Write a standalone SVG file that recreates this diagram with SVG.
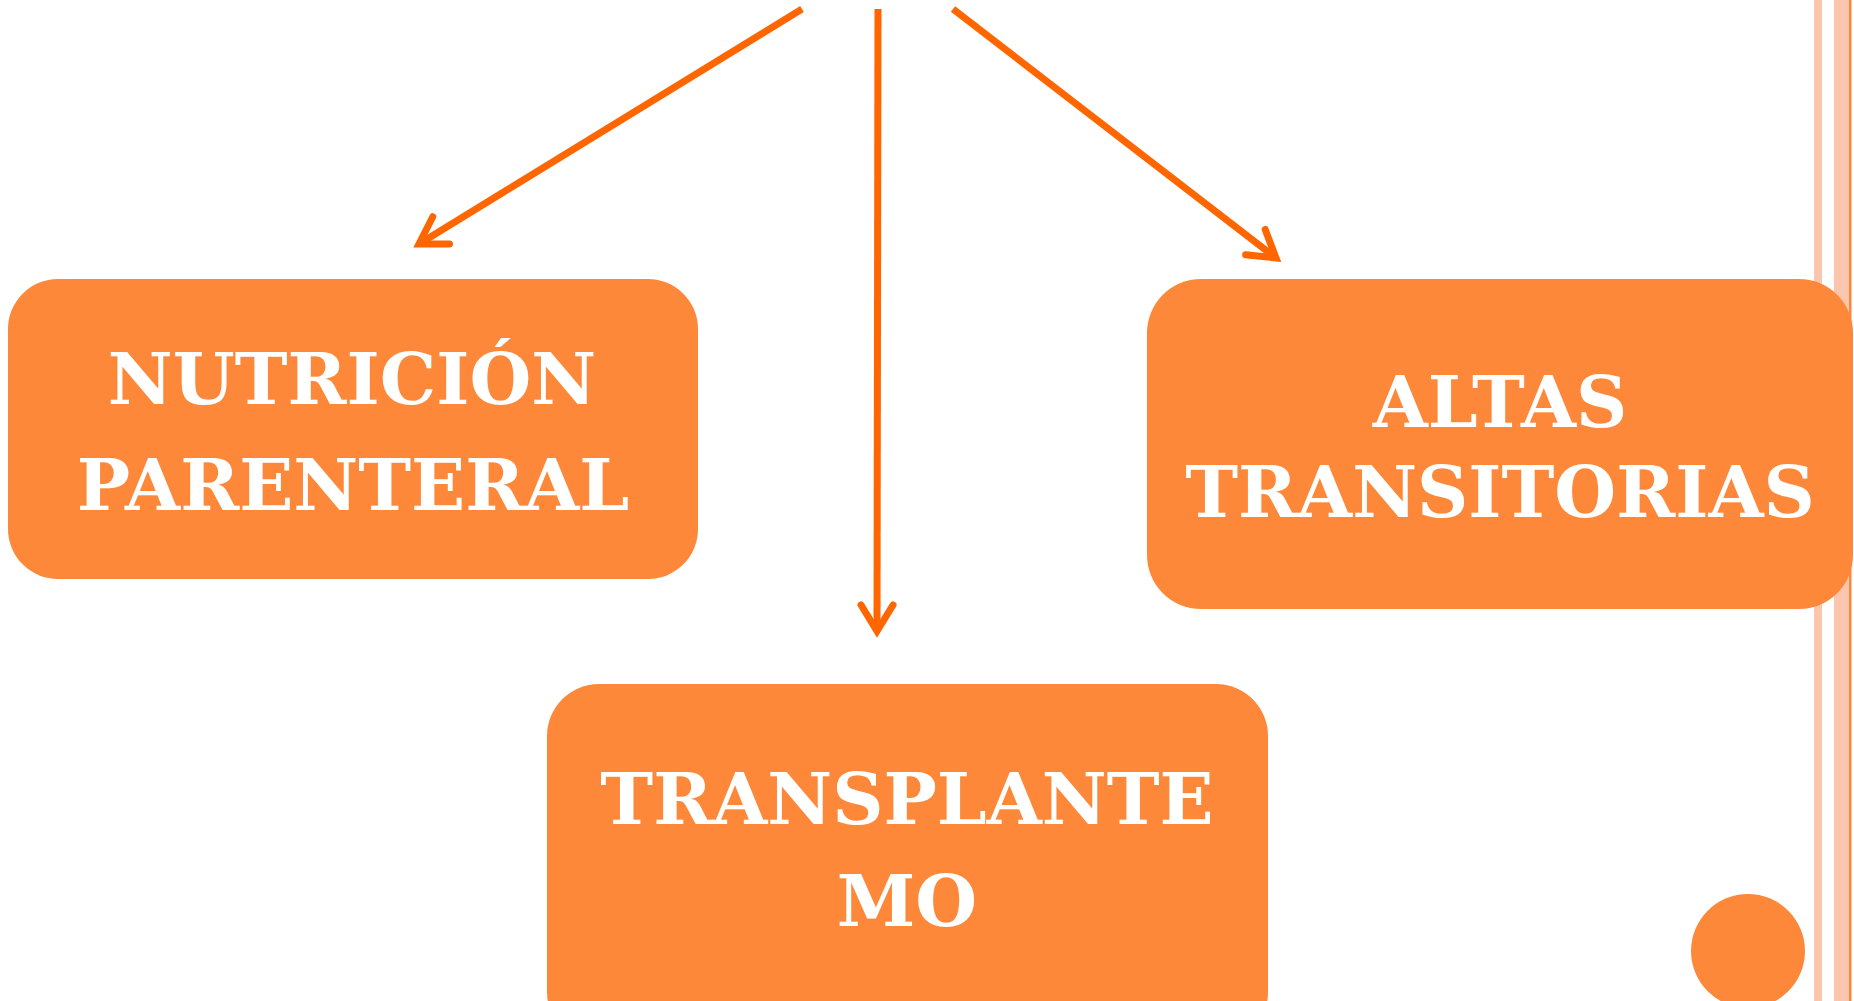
<svg xmlns="http://www.w3.org/2000/svg" width="1854" height="1001" viewBox="0 0 1854 1001">
<style>
.box{fill:#FE883A}
.lbl{font-family:"DejaVu Serif","Liberation Serif",serif;font-weight:bold;font-size:71px;fill:#FFFFFF;text-anchor:middle}
.conn{stroke:#FF6600;stroke-width:7;fill:none}
.stripe{fill:#FBC5AE}
</style>
<defs>
<marker id="ah" markerUnits="userSpaceOnUse" viewBox="-45 -25 60 50" refX="0" refY="0" markerWidth="60" markerHeight="50" orient="auto" overflow="visible">
<path d="M -26 -16 L 0 0 L -26 16" fill="none" stroke="#FF6600" stroke-width="7" stroke-linecap="round" stroke-linejoin="miter" stroke-miterlimit="10"/>
</marker>
</defs>
<rect width="1854" height="1001" fill="#FFFFFF"/>
<g id="decor">
<rect class="stripe" x="1814" y="0" width="8" height="1001"/>
<rect class="stripe" x="1834" y="0" width="15" height="1001"/>
<rect x="1849" y="0" width="2.5" height="1001" fill="#FE883A"/>
<circle cx="1748" cy="951" r="57" fill="#FE883A"/>
</g>
<g id="connectors">
<line class="conn" x1="802" y1="9" x2="419" y2="244" marker-end="url(#ah)"/>
<line class="conn" x1="878" y1="9" x2="877" y2="631" marker-end="url(#ah)"/>
<line class="conn" x1="953" y1="9" x2="1276" y2="258" marker-end="url(#ah)"/>
</g>
<g id="node-nutricion">
<rect class="box" x="8" y="279" width="690" height="300" rx="50" ry="50"/>
<text class="lbl" x="352" y="404">NUTRICIÓN</text>
<text class="lbl" x="353" y="510">PARENTERAL</text>
</g>
<g id="node-altas">
<rect class="box" x="1147" y="279" width="706" height="330" rx="54" ry="54"/>
<text class="lbl" x="1500" y="427">ALTAS</text>
<text class="lbl" x="1500" y="517">TRANSITORIAS</text>
</g>
<g id="node-transplante">
<rect class="box" x="547" y="684" width="721" height="360" rx="52" ry="52"/>
<text class="lbl" x="907" y="824">TRANSPLANTE</text>
<text class="lbl" x="907" y="926">MO</text>
</g>
</svg>
